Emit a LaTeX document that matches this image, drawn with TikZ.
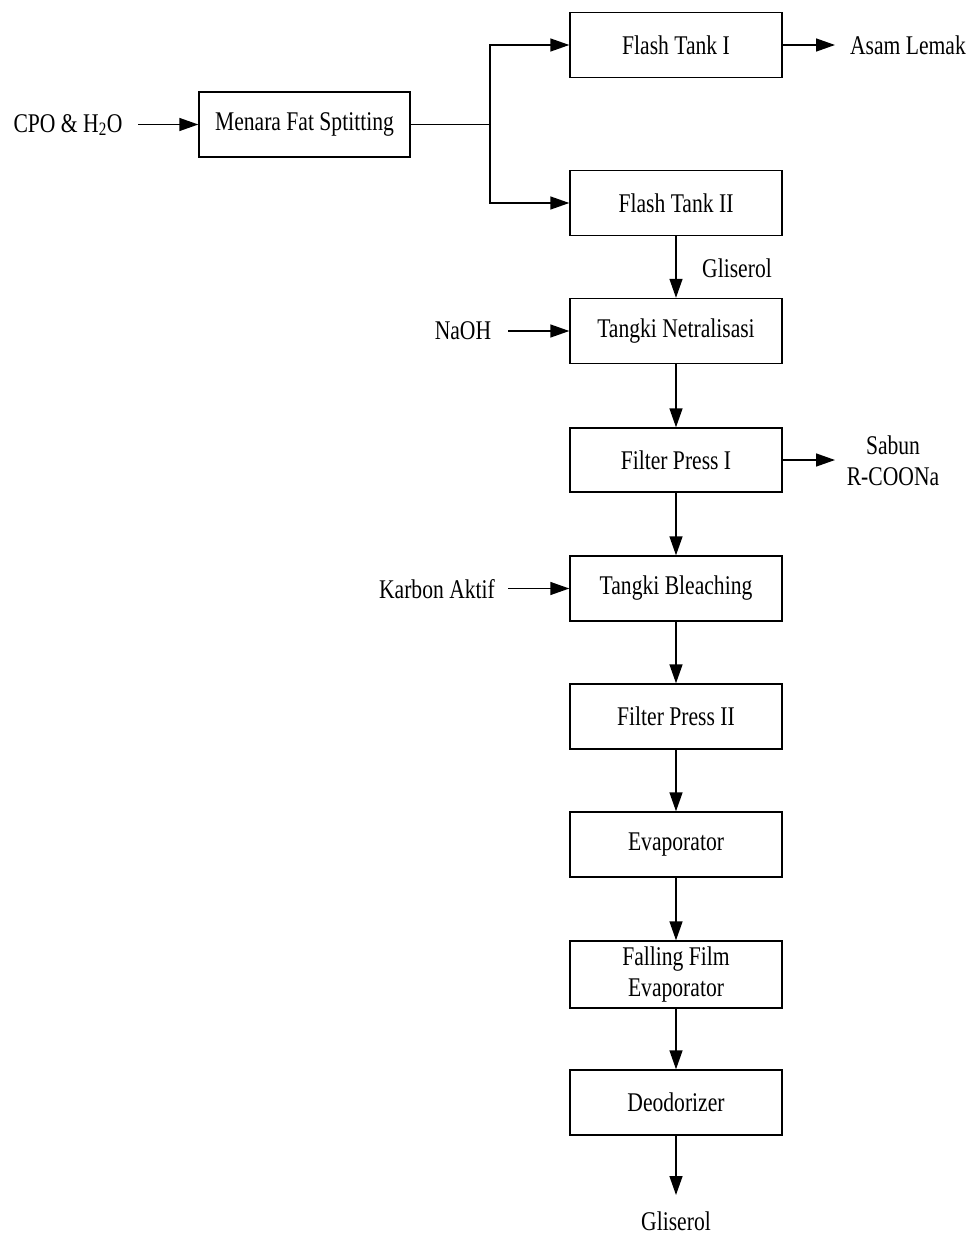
\documentclass[tikz,border=0pt]{standalone}
\usepackage{fontspec}
\setmainfont{Liberation Serif}[FakeStretch=0.8]
\usetikzlibrary{arrows.meta}
\begin{document}
\begin{tikzpicture}[x=1pt,y=-1pt,
  font=\fontsize{27}{31}\selectfont,
  proc/.style={draw,line width=1.4pt,minimum width=212pt,minimum height=65pt,inner sep=0pt,align=center},
  lbl/.style={inner sep=0pt,align=center},
  flow/.style={line width=1.4pt,-{Triangle[length=19pt,width=13pt]}},
  seg/.style={line width=1.4pt}]
\useasboundingbox (0,0) rectangle (974,1236);
\node[proc,minimum width=211pt] (mfs) at (304.5,124.5) {Menara Fat Sptitting};
\node[proc] (ft1) at (676,45) {Flash Tank I};
\node[proc] (ft2) at (676,203) {Flash Tank II};
\node[proc] (tn) at (676,331) {Tangki Netralisasi};
\node[proc,minimum height=64pt] (fp1) at (676,460) {Filter Press I};
\node[proc] (tb) at (676,588.5) {Tangki Bleaching};
\node[proc] (fp2) at (676,716.5) {Filter Press II};
\node[proc] (ev) at (676,844.5) {Evaporator};
\node[proc,minimum height=67pt] (ffe) at (676,974.5) {Falling Film\\Evaporator};
\node[proc] (deo) at (676,1102.5) {Deodorizer};
\node[lbl] (cpo) at (68,125) {CPO \& H\textsubscript{2}O};
\node[lbl] (asam) at (908,45) {Asam Lemak};
\node[lbl] (gl1) at (737,268) {Gliserol};
\node[lbl] (naoh) at (463,331) {NaOH};
\node[lbl] (sabun) at (893,461) {Sabun\\R-COONa};
\node[lbl] (karbon) at (437,589) {Karbon Aktif};
\node[lbl] (gl2) at (676,1221) {Gliserol};
\coordinate (sp) at (490,124.5);
\coordinate (cpoE) at (138,124.5);
\coordinate (asamE) at (835,45);
\coordinate (naohE) at (508,331);
\coordinate (sabunE) at (835,460);
\coordinate (karbonE) at (508,588.5);
\coordinate (glE) at (676,1195);
\draw[flow] (cpoE) -- (mfs.west);
\draw[seg] (mfs.east) -- (sp);
\draw[flow] (sp) |- (ft1.west);
\draw[flow] (sp) |- (ft2.west);
\draw[flow] (ft1.east) -- (asamE);
\draw[flow] (ft2) -- (tn);
\draw[flow] (naohE) -- (tn.west);
\draw[flow] (tn) -- (fp1);
\draw[flow] (fp1.east) -- (sabunE);
\draw[flow] (fp1) -- (tb);
\draw[flow] (karbonE) -- (tb.west);
\draw[flow] (tb) -- (fp2);
\draw[flow] (fp2) -- (ev);
\draw[flow] (ev) -- (ffe);
\draw[flow] (ffe) -- (deo);
\draw[flow] (deo) -- (glE);
\end{tikzpicture}
\end{document}
